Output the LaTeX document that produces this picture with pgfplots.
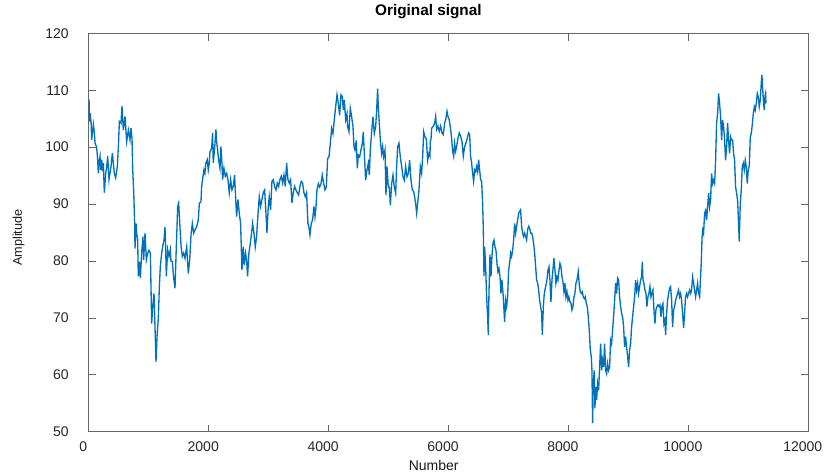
\documentclass[border=0pt]{standalone}
\usepackage{fontspec}
\setmainfont{Liberation Sans}
\usepackage{pgfplots}
\pgfplotsset{compat=1.18}
\definecolor{mblue}{HTML}{0072BD}
\begin{document}
\begin{tikzpicture}
\useasboundingbox (-66.5pt,-29.5pt) rectangle (552.2pt,323.8pt);
\begin{axis}[
  at={(0,0)}, anchor=south west,
  scale only axis, width=539.5pt, height=298.8pt,
  xmin=0, xmax=12000, ymin=50, ymax=120,
  xtick={0,2000,4000,6000,8000,10000,12000},
  ytick={50,60,70,80,90,100,110,120},
  scaled x ticks=false, scaled y ticks=false,
  /pgf/number format/1000 sep={},
  /pgf/number format/assume math mode=true,
  tick align=inside,
  major tick length=5.4pt,
  axis line style={black!60, line width=0.6pt},
  tick style={black!60, line width=0.6pt},
  ticklabel style={font=\fontsize{10.5}{12}\selectfont, text=black!85},
  x tick label style={yshift=-4pt, xshift=-4pt},
  y tick label style={xshift=-11.5pt},
  title={Original signal},
  title style={at={(axis description cs:0.5,1)}, anchor=base, yshift=7.5pt, xshift=-15pt, font=\bfseries\fontsize{11.5}{13}\selectfont, text=black},
  xlabel={Number},
  xlabel style={at={(axis description cs:0.5,0)}, anchor=base, yshift=-28.7pt, xshift=-11pt, font=\fontsize{10.5}{12}\selectfont, text=black!90},
  ylabel={Amplitude},
  ylabel style={at={(axis description cs:-0.0927,0.4875)}, anchor=base, font=\fontsize{9.5}{11}\selectfont, text=black!90},
]
\addplot[mblue, line width=1pt, mark=none] coordinates {
(0,107)(6,108.4)(14,104.5)(22,106)(40,104.5)(50,101.3)(78,104)(95,102.5)(106,100.7)(133,100)(150,97.8)(161,95.4)(175,97.5)(189,98.4)(200,96)(217,97.8)(230,95.8)(245,97.2)(261,92)(284,95.4)(300,96.5)(317,98.4)(339,94.3)(373,96.6)(395,99)(428,95.4)(450,94.6)(478,96.6)(495,100)(512,104.5)(539,104.2)(556,107.2)(578,103)(606,105.4)(634,101)(662,103)(689,101.3)(706,103.4)(723,101.6)(734,96.3)(751,92.2)(767,86.6)(773,82.2)(790,86.6)(801,84.9)(817,83.7)(828,77.3)(845,79.9)(862,77)(884,81.4)(906,84.3)(917,80.2)(940,84.9)(962,80.2)(984,81.4)(1006,81.9)(1029,81.4)(1051,69)(1068,72)(1090,74.3)(1106,68.5)(1123,62.3)(1140,66.7)(1162,70)(1179,75.5)(1195,79)(1218,81.4)(1234,82.5)(1257,83.7)(1273,86)(1284,82.5)(1295,77.3)(1318,82)(1340,80.8)(1362,82)(1373,79.9)(1396,79.9)(1418,77)(1440,75.2)(1462,82.5)(1485,89.6)(1501,90.2)(1523,86)(1540,82.8)(1562,80.8)(1585,81.4)(1607,80.5)(1635,82.5)(1662,77.8)(1685,80.2)(1707,84.6)(1729,86.6)(1751,84.9)(1774,85.5)(1801,86)(1829,87.2)(1846,90.2)(1856,90.2)(1874,90.5)(1884,93.1)(1900,94.3)(1923,96)(1939,95.4)(1956,97.2)(1978,97.8)(1995,96)(2012,97.2)(2023,99.2)(2051,99.8)(2067,102.5)(2078,97.2)(2101,99.8)(2123,103.1)(2134,101)(2151,99.5)(2167,97.8)(2190,96.3)(2206,100.1)(2223,97.2)(2234,94.3)(2256,96.3)(2279,94.9)(2301,95.4)(2323,94.3)(2345,92)(2368,94.3)(2390,92.5)(2412,93.1)(2434,95.1)(2456,90.2)(2468,87.8)(2490,90.8)(2512,88.4)(2534,86.6)(2557,78.4)(2579,82.5)(2595,79.3)(2618,81.4)(2634,80.2)(2651,77.3)(2673,81.4)(2696,83.1)(2718,84.9)(2734,86.6)(2757,84.9)(2779,82.5)(2801,84.3)(2829,89)(2846,91.3)(2868,89.6)(2890,90.8)(2912,92)(2935,92.5)(2957,88.4)(2974,84.9)(2996,89.6)(3012,91.3)(3035,89)(3057,94)(3079,94.3)(3101,93.1)(3124,92.5)(3146,93.7)(3168,93.1)(3190,94.3)(3213,94.9)(3235,93.7)(3257,95.1)(3279,93.1)(3302,97.2)(3324,94.3)(3346,93.7)(3368,94.3)(3391,90.2)(3413,92)(3435,93.1)(3457,92.5)(3480,92)(3502,91.6)(3524,93.1)(3546,94)(3568,93.7)(3591,92)(3613,91.3)(3635,92)(3657,86.6)(3674,86)(3691,84.6)(3713,86.6)(3735,87.2)(3758,89.6)(3775,87.8)(3792,89.5)(3808,92.5)(3831,93.6)(3853,93)(3875,93.6)(3897,95.1)(3920,93.6)(3942,92.5)(3964,93)(3986,98)(4009,98.3)(4031,100.7)(4053,103.3)(4075,102.4)(4097,104.8)(4120,107.1)(4142,109.2)(4164,107.7)(4186,105.6)(4209,109.2)(4231,108.9)(4248,106.5)(4264,108.3)(4287,104.8)(4309,105.9)(4320,103.6)(4342,102.7)(4364,106.8)(4387,105.35)(4409,103.6)(4426,100.1)(4442,99.5)(4464,101.2)(4481,96.3)(4498,98.6)(4520,98.3)(4542,99.5)(4565,100.7)(4581,102.7)(4598,98.9)(4620,94.2)(4642,96)(4665,97.2)(4681,95.1)(4698,99.5)(4720,102.7)(4742,105.35)(4765,102.4)(4787,103.6)(4804,106.5)(4820,110.3)(4831,107.1)(4848,104.2)(4865,101.2)(4887,98.9)(4904,100.1)(4920,98.3)(4943,99.5)(4959,91.6)(4976,96.6)(4998,93)(5015,93)(5032,89.8)(5054,93.6)(5076,95.1)(5098,93)(5121,91.9)(5137,96.6)(5154,100.1)(5176,100.7)(5198,98.3)(5221,96.6)(5243,94.8)(5265,94.2)(5287,96.6)(5310,94.8)(5332,95.4)(5354,97.7)(5376,94.2)(5399,92.5)(5421,92.2)(5437,91.3)(5454,90.1)(5471,88.4)(5487,90.1)(5510,92.5)(5532,96.6)(5554,95.4)(5571,98.3)(5588,102.7)(5610,101.8)(5632,101.5)(5654,97.7)(5676,98.9)(5693,98.4)(5699,101.2)(5710,101.3)(5721,103.3)(5726,103.4)(5749,103.7)(5771,104.2)(5788,105.4)(5804,103.1)(5826,103.7)(5849,102.8)(5871,103.7)(5893,102.5)(5915,102.2)(5938,104.2)(5960,105.1)(5977,106.3)(5993,105.4)(6015,104.8)(6038,103.1)(6054,101.6)(6071,99.3)(6088,98.4)(6104,100.7)(6121,99.3)(6138,100.1)(6160,101.6)(6182,102.5)(6205,101.9)(6227,101)(6249,98.4)(6271,100.1)(6293,100.7)(6316,101.6)(6338,102.5)(6355,102.2)(6371,98.4)(6388,97.2)(6405,95.4)(6421,94)(6438,96)(6455,95.7)(6471,96.6)(6488,95.7)(6505,97.8)(6521,96)(6538,94.3)(6555,94)(6571,90.2)(6583,85.5)(6594,77.3)(6605,82.5)(6622,79)(6638,73.7)(6655,70.2)(6666,67)(6677,74.3)(6694,81.1)(6711,77.3)(6727,80.8)(6744,83.1)(6761,83.7)(6777,82.5)(6794,81.9)(6811,79.6)(6827,78.1)(6844,78.7)(6861,77.3)(6877,74.3)(6894,76.7)(6916,73.7)(6938,69.3)(6955,73.1)(6972,72)(6988,73.7)(7005,78.4)(7022,79.6)(7039,81.4)(7055,80.8)(7072,81.9)(7089,83.7)(7105,86.6)(7122,84.9)(7139,86.1)(7155,87.2)(7172,88.4)(7189,88.7)(7205,89)(7222,86.1)(7239,84.9)(7255,84.3)(7272,84.9)(7289,84.3)(7305,83.7)(7322,85.5)(7339,86.1)(7355,85.8)(7372,84.9)(7389,84.9)(7405,84.3)(7422,83.1)(7439,81.4)(7456,79)(7472,76.7)(7489,76.1)(7506,74.9)(7522,73.1)(7539,72)(7556,70.8)(7567,67)(7584,72)(7600,74.3)(7617,75.2)(7628,75.8)(7644,76.65)(7661,78.4)(7678,79)(7694,76.65)(7711,72.8)(7728,76.65)(7744,78.4)(7761,80.5)(7778,78.4)(7794,76.1)(7811,77.2)(7828,76.65)(7845,78.4)(7861,79.6)(7878,79)(7895,77.2)(7911,76.4)(7928,74.6)(7945,76.1)(7961,73.7)(7978,74.6)(7995,73.1)(8011,73.7)(8028,72.8)(8045,72.6)(8061,71.4)(8078,72)(8095,73.7)(8111,74.3)(8128,76.1)(8145,76.65)(8167,78.1)(8184,75.8)(8200,74.6)(8217,74.3)(8234,74.6)(8250,73.7)(8267,73.4)(8284,73.7)(8300,72.6)(8317,72)(8334,70.2)(8350,67.9)(8367,64.4)(8384,63.2)(8395,60.8)(8406,51.5)(8417,58.5)(8434,60.8)(8445,54.1)(8456,57.9)(8473,55.6)(8489,58.5)(8506,57.3)(8523,61.4)(8540,65.5)(8556,60.8)(8573,62.6)(8590,61.4)(8606,65.5)(8623,60.8)(8640,60.2)(8656,62)(8673,60.8)(8690,61.4)(8706,66.1)(8723,65.5)(8740,67.9)(8756,70.2)(8773,73.1)(8790,76.1)(8806,74.3)(8823,77)(8840,76.65)(8856,73.7)(8873,72)(8890,70.8)(8906,70.2)(8923,68.5)(8940,64.9)(8956,66.7)(8973,64.9)(8990,63.2)(9007,61.4)(9023,64.4)(9040,65.5)(9057,68.5)(9073,70.2)(9090,72)(9107,73.7)(9123,76.65)(9140,74.9)(9157,76.1)(9173,74.3)(9190,75.5)(9207,76.65)(9223,77.2)(9235,79.9)(9246,76.65)(9262,76.1)(9279,74.9)(9296,74.3)(9312,72)(9329,73.7)(9346,74.3)(9362,75.5)(9379,73.7)(9396,74.3)(9412,74.9)(9429,71.4)(9446,69)(9462,71.4)(9479,72)(9496,72.3)(9512,72)(9529,72.3)(9546,70.2)(9562,72)(9579,72.5)(9596,69)(9612,69.6)(9624,67)(9640,70.8)(9657,73.1)(9674,74.3)(9690,75.2)(9707,75.5)(9724,73.1)(9740,68.4)(9757,71.4)(9774,72)(9790,73.1)(9807,73.7)(9824,74.3)(9840,74.9)(9857,73.7)(9874,74.3)(9890,73.1)(9907,70.8)(9924,68.2)(9940,70.8)(9957,73.7)(9974,74.3)(9990,73.7)(10007,74.3)(10024,74.9)(10041,74.3)(10057,74.9)(10074,77.2)(10091,76.1)(10107,74.9)(10124,73.7)(10141,74.9)(10157,76.1)(10174,74.3)(10191,73.7)(10207,77.2)(10218,79.6)(10230,83.7)(10241,85.4)(10257,84.8)(10274,88.4)(10291,88.9)(10307,87.2)(10324,89.5)(10341,91.9)(10357,89.5)(10374,90.7)(10391,95.4)(10407,93.6)(10424,94.2)(10441,93.6)(10458,97.7)(10474,104.2)(10491,105.9)(10508,109.45)(10524,107.7)(10541,105.35)(10558,101.25)(10574,104.8)(10591,103.6)(10608,101.25)(10624,97.7)(10641,100.1)(10658,104.2)(10674,101.25)(10691,98.9)(10708,101.8)(10724,101.25)(10741,101.25)(10758,98.9)(10774,97.7)(10791,93)(10808,91.9)(10824,90.7)(10841,86.6)(10852,83.4)(10869,90.1)(10886,92.5)(10902,96.6)(10919,97.2)(10936,96)(10952,97.7)(10969,96.6)(10986,93.6)(11002,96)(11019,96.6)(11036,101.8)(11052,102.4)(11069,103.9)(11086,105.9)(11103,107.1)(11119,106.5)(11136,107.7)(11153,109.45)(11169,108.9)(11186,107.1)(11203,108.3)(11219,111.2)(11230,112.7)(11241,110.6)(11258,107.7)(11270,106.5)(11281,108.9)(11292,109.45)(11297,107.7)
};
\end{axis}
\end{tikzpicture}
\end{document}
